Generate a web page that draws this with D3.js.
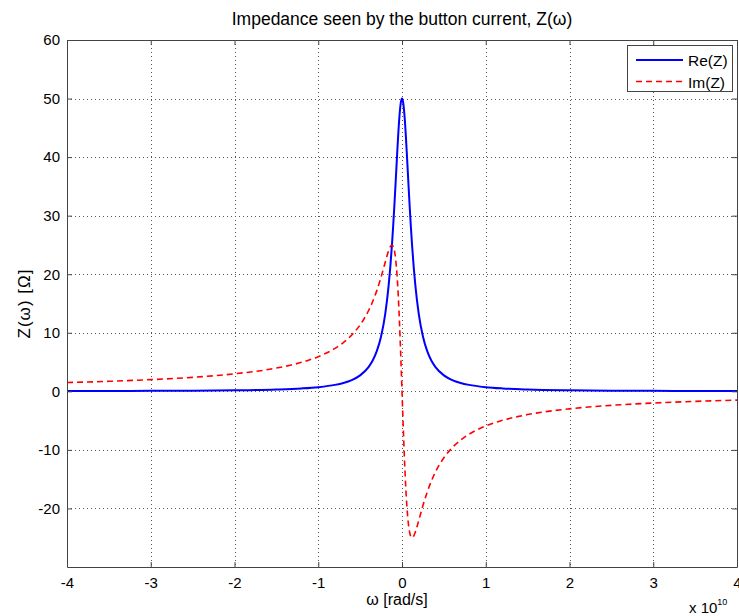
<!DOCTYPE html>
<html>
<head>
<meta charset="utf-8">
<script src="https://cdn.jsdelivr.net/npm/d3@7"></script>
<style>
  body { margin: 0; background: #fff; }
  svg { font-family: "Liberation Sans", Arial, sans-serif; }
</style>
</head>
<body>
<div id="chart"></div>
<script>
// omega in units of 1e10 rad/s
const omega = [-4, -3.5, -3, -2.5, -2, -1.5, -1.2, -1, -0.8, -0.7, -0.6, -0.5, -0.4, -0.35, -0.3, -0.25, -0.2,
  -0.16, -0.14, -0.12, -0.105, -0.09, -0.075, -0.06, -0.045, -0.03, -0.015, 0,
  0.015, 0.03, 0.045, 0.06, 0.075, 0.09, 0.105, 0.12, 0.14, 0.16,
  0.2, 0.25, 0.3, 0.35, 0.4, 0.5, 0.6, 0.7, 0.8, 1, 1.2, 1.5, 2, 2.5, 3, 3.5, 4];

const reZ = [0.045, 0.059, 0.08, 0.115, 0.179, 0.318, 0.495, 0.71, 1.1, 1.43, 1.92, 2.72, 4.13, 5.26, 6.9, 9.36, 13.24,
  18.0, 21.18, 25.0, 28.32, 32.0, 35.96, 40.0, 43.84, 47.06, 49.23, 50.0,
  49.23, 47.06, 43.84, 40.0, 35.96, 32.0, 28.32, 25.0, 21.18, 18.0,
  13.24, 9.36, 6.9, 5.26, 4.13, 2.72, 1.92, 1.43, 1.1, 0.71, 0.495, 0.318, 0.179, 0.115, 0.08, 0.059, 0.045];

const imZ = [1.5, 1.71, 2.0, 2.39, 2.99, 3.97, 4.95, 5.92, 7.34, 8.33, 9.62, 11.35, 13.76, 15.34, 17.24, 19.5, 22.06,
  24.0, 24.71, 25.0, 24.78, 24.0, 22.47, 20.0, 16.44, 11.76, 6.15, 0,
  -6.15, -11.76, -16.44, -20.0, -22.47, -24.0, -24.78, -25.0, -24.71, -24.0,
  -22.06, -19.5, -17.24, -15.34, -13.76, -11.35, -9.62, -8.33, -7.34, -5.92, -4.95, -3.97, -2.99, -2.39, -2.0, -1.71, -1.5];

const xTicks = [-4, -3, -2, -1, 0, 1, 2, 3, 4];
const yTicks = [-20, -10, 0, 10, 20, 30, 40, 50, 60];
const seriesNames = ["Re(Z)", "Im(Z)"];

const width = 739, height = 616;
const margin = {top: 40, right: 2, bottom: 49, left: 67};

let svg = d3.select("#chart")
  .append("svg")
  .attr("width", width)
  .attr("height", height);

let xScale = d3.scaleLinear()
  .domain([-4, 4])
  .range([margin.left, width - margin.right]);

let yScale = d3.scaleLinear()
  .domain([-30, 60])
  .range([height - margin.bottom, margin.top]);

const x0 = xScale.range()[0], x1 = xScale.range()[1];
const y0 = yScale.range()[0], y1 = yScale.range()[1];

// grid
let grid = svg.append("g")
  .attr("stroke", "#555")
  .attr("stroke-width", 1)
  .attr("stroke-dasharray", "1,3");
grid.selectAll(".gx").data(xTicks.slice(1, -1)).enter()
  .append("line")
    .attr("x1", d => Math.round(xScale(d)) + 0.5).attr("x2", d => Math.round(xScale(d)) + 0.5)
    .attr("y1", y1).attr("y2", y0);
grid.selectAll(".gy").data(yTicks.slice(0, -1)).enter()
  .append("line")
    .attr("y1", d => Math.round(yScale(d)) + 0.5).attr("y2", d => Math.round(yScale(d)) + 0.5)
    .attr("x1", x0).attr("x2", x1);

// lines
const pts = omega.map((w, i) => ({w: w, re: reZ[i], im: imZ[i]}));

svg.append("path")
  .datum(pts)
  .attr("fill", "none")
  .attr("stroke", "#0000ff")
  .attr("stroke-width", 2)
  .attr("d", d3.line().curve(d3.curveMonotoneX).x(d => xScale(d.w)).y(d => yScale(d.re)));

svg.append("path")
  .datum(pts)
  .attr("fill", "none")
  .attr("stroke", "#ff0000")
  .attr("stroke-width", 1.6)
  .attr("stroke-dasharray", "6,4")
  .attr("d", d3.line().curve(d3.curveMonotoneX).x(d => xScale(d.w)).y(d => yScale(d.im)));

// axes (ticks inward, box all round)
const fmt = d => String(d);

svg.append("g")
  .attr("transform", `translate(0,${y0})`)
  .call(d3.axisBottom(xScale).tickValues(xTicks).tickSizeInner(-5).tickSizeOuter(0).tickPadding(10).tickFormat(fmt))
  .attr("font-size", "15px");

svg.append("g")
  .attr("transform", `translate(${x0},0)`)
  .call(d3.axisLeft(yScale).tickValues(yTicks).tickSizeInner(-5).tickSizeOuter(0).tickPadding(7).tickFormat(fmt))
  .attr("font-size", "15px");

svg.append("g")
  .attr("transform", `translate(0,${y1})`)
  .call(d3.axisTop(xScale).tickValues(xTicks).tickSizeInner(-5).tickSizeOuter(0).tickFormat(""));

svg.append("g")
  .attr("transform", `translate(${x1},0)`)
  .call(d3.axisRight(yScale).tickValues(yTicks).tickSizeInner(-5).tickSizeOuter(0).tickFormat(""));

svg.selectAll(".domain").attr("stroke", "#444");
svg.selectAll(".tick line").attr("stroke", "#444");
svg.selectAll(".tick text").attr("fill", "#000");

// titles
svg.append("text")
  .attr("x", (x0 + x1) / 2).attr("y", 25)
  .attr("text-anchor", "middle").attr("font-size", "17.5px")
  .text("Impedance seen by the button current, Z(\u03c9)");

svg.append("text")
  .attr("x", 397).attr("y", 605)
  .attr("text-anchor", "middle").attr("font-size", "16px")
  .text("\u03c9 [rad/s]");

svg.append("text")
  .attr("transform", `translate(30,${(y0 + y1) / 2}) rotate(-90)`)
  .attr("text-anchor", "middle").attr("font-size", "17px")
  .attr("letter-spacing", "1px")
  .text("Z(\u03c9) [\u03a9]");

let mult = svg.append("text")
  .attr("x", 689).attr("y", 613).attr("font-size", "15px");
mult.append("tspan").text("x 10");
mult.append("tspan").attr("font-size", "9px").attr("dy", -8).text("10");

// legend
let legend = svg.append("g");
legend.append("rect")
  .attr("x", 627.5).attr("y", 45.5).attr("width", 105).attr("height", 46)
  .attr("fill", "#fff").attr("stroke", "#444");
const legColors = ["#0000ff", "#ff0000"];
seriesNames.forEach((name, i) => {
  let ly = 60 + i * 21.5;
  legend.append("line")
    .attr("x1", 636).attr("x2", 683).attr("y1", ly).attr("y2", ly)
    .attr("stroke", legColors[i]).attr("stroke-width", i === 0 ? 2 : 1.6)
    .attr("stroke-dasharray", i === 0 ? null : "6,4");
  legend.append("text")
    .attr("x", 688).attr("y", ly + 6).attr("font-size", "15.5px")
    .text(name);
});
</script>
</body>
</html>
